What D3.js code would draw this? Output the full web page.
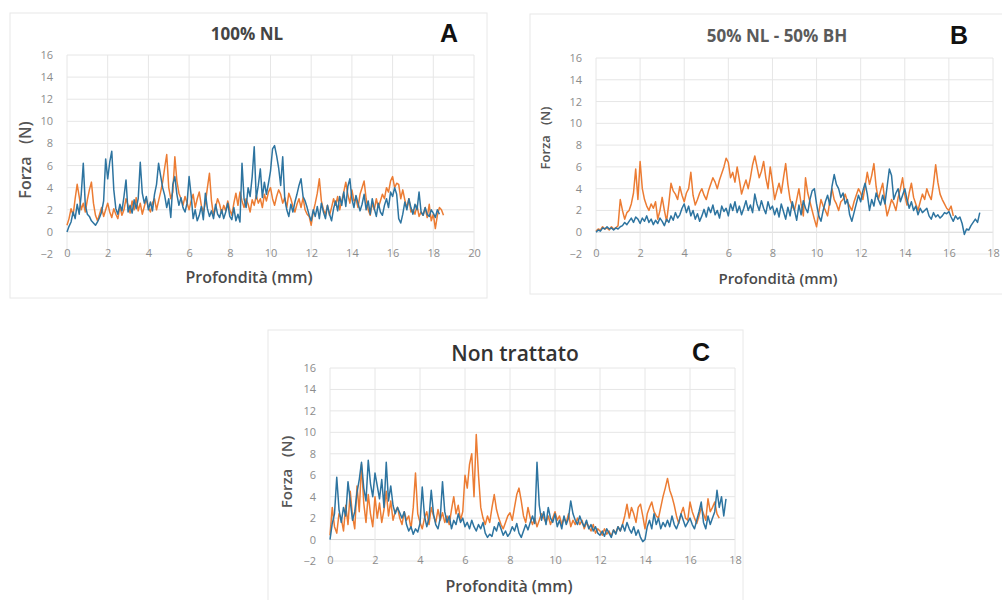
<!DOCTYPE html>
<html>
<head>
<meta charset="utf-8">
<script src="https://cdn.jsdelivr.net/npm/d3@7"></script>
<style>
  html, body { margin: 0; padding: 0; background: #ffffff; }
  svg { display: block; }
  .tick text { font-family: "Open Sans", Lato, sans-serif; font-size: 11px; fill: #8c8c8c; }
</style>
</head>
<body>
<svg id="chart" width="1002" height="600"></svg>
<script>
// Penetration tests: force (N) vs depth (mm), two repeated measurements per treatment.
const depthStep = 0.1;            // sampling interval of the traces (mm)

const yTicks = [-2, 0, 2, 4, 6, 8, 10, 12, 14, 16];
const xTicksA = [0, 2, 4, 6, 8, 10, 12, 14, 16, 18, 20];
const xTicksBC = [0, 2, 4, 6, 8, 10, 12, 14, 16, 18];

const titles = ["100% NL", "50% NL - 50% BH", "Non trattato"];
const letters = ["A", "B", "C"];
const yAxisTitle = "Forza\u00a0\u00a0\u00a0(N)";
const xAxisTitle = "Profondità (mm)";

// 100% NL
const nlBlue = [
  0.0,0.5,0.9,1.8,1.2,2.5,1.6,3.4,6.2,2.4,
  1.6,1.4,1.0,0.8,0.6,0.9,1.3,1.8,2.8,6.6,
  4.8,6.3,7.3,3.8,2.1,1.6,2.5,1.9,3.2,4.7,
  1.8,2.4,1.7,2.9,2.1,3.0,6.3,3.5,2.6,3.2,
  2.0,2.7,1.9,3.4,4.3,6.2,5.1,4.0,3.3,2.2,
  3.0,1.3,4.3,5.0,3.4,2.4,3.1,2.2,1.8,2.6,
  5.0,3.3,1.2,2.0,1.0,1.5,2.3,1.1,3.5,2.1,
  1.4,1.9,1.2,2.5,1.6,1.3,2.0,1.2,1.8,2.6,
  1.4,1.1,2.2,1.0,1.6,0.9,6.2,3.0,2.2,4.0,
  3.2,5.0,7.7,3.0,4.2,5.7,3.1,4.5,3.4,4.4,
  5.5,7.5,7.8,6.9,5.8,4.2,6.8,3.0,2.0,1.4,
  2.5,1.8,2.7,3.4,4.2,4.8,3.2,2.8,2.2,1.5,
  1.0,2.0,1.4,2.3,1.2,2.6,1.8,1.2,2.4,1.6,
  1.0,2.1,2.8,1.9,3.2,2.4,3.6,2.3,4.1,4.8,
  3.0,2.2,3.3,2.6,1.9,2.5,3.4,2.0,2.8,1.6,
  3.0,2.1,1.4,2.6,1.8,1.5,2.4,3.0,2.2,3.6,
  3.2,4.0,3.4,1.2,0.8,1.6,2.7,2.0,3.0,2.2,
  1.6,2.5,2.0,3.6,1.8,1.5,2.2,1.6,1.4,2.0,
  1.7,1.3,2.0,1.6
];
const nlOrange = [
  0.6,1.2,2.1,1.5,3.0,4.3,3.2,2.0,2.6,1.8,
  2.9,3.8,4.5,2.6,1.5,1.0,1.6,2.2,1.4,2.0,
  2.6,1.8,1.3,2.1,1.6,1.2,2.3,1.5,2.0,3.0,
  2.4,1.7,2.8,2.0,3.1,1.9,2.6,1.6,2.3,3.0,
  2.2,1.8,2.6,3.0,2.0,2.8,3.6,4.5,5.8,7.0,
  4.0,3.0,3.6,6.8,4.6,3.5,3.0,2.4,3.2,2.6,
  2.0,2.8,3.4,2.2,3.0,3.6,2.4,1.8,2.6,4.0,
  5.3,2.8,1.5,2.2,3.0,2.5,1.7,2.4,1.9,2.8,
  2.0,1.5,2.6,3.5,2.4,3.6,2.8,2.2,3.0,2.5,
  1.8,2.9,2.4,3.3,2.6,3.0,2.2,3.4,2.8,3.6,
  4.0,3.0,2.4,3.2,3.8,3.4,2.6,3.1,2.2,3.5,
  3.0,2.3,1.8,2.5,3.0,2.2,3.1,2.0,1.6,1.4,
  0.6,1.8,2.6,3.5,4.8,2.8,2.0,1.6,2.4,1.5,
  2.2,3.0,2.4,3.2,2.0,2.8,3.6,4.5,3.4,2.6,
  3.8,2.8,3.0,2.2,3.4,4.0,4.6,3.0,2.0,1.5,
  2.6,2.0,3.0,2.2,2.8,3.4,3.0,4.0,3.6,4.6,
  5.0,4.0,4.4,4.3,3.0,3.8,2.9,2.2,3.0,1.8,
  2.0,1.6,2.4,1.4,1.8,1.5,2.2,1.3,2.5,1.0,
  1.6,0.3,1.5,2.2,2.0,1.5
];

// 50% NL - 50% BH
const mixBlue = [
  0.0,0.2,0.1,0.4,0.3,0.5,0.3,0.4,0.2,0.4,
  0.3,0.5,0.6,0.9,0.7,1.0,1.3,0.9,1.4,1.2,
  0.8,1.3,1.0,1.5,0.9,1.2,0.7,1.1,0.8,1.3,
  1.0,0.6,1.2,0.9,1.5,1.1,1.8,1.3,1.6,2.2,
  2.6,1.8,2.4,1.5,2.0,1.2,1.7,1.0,1.5,2.1,
  1.4,2.3,1.8,2.5,1.6,2.0,1.3,2.4,1.9,2.2,
  1.5,2.6,2.0,2.8,1.8,2.4,1.6,2.2,2.9,2.0,
  2.5,1.8,3.5,2.6,2.0,2.9,2.2,1.7,2.8,2.1,
  2.4,1.6,2.2,1.4,2.6,1.9,1.2,2.3,1.5,2.8,
  2.0,1.1,2.5,1.6,2.9,2.2,1.8,3.0,3.8,4.0,
  2.6,1.5,1.0,2.0,2.8,3.4,2.5,4.2,5.3,4.4,
  4.0,3.2,3.6,2.6,3.0,1.6,1.0,1.8,2.6,3.4,
  2.8,3.8,4.5,3.5,2.0,3.0,2.4,3.6,3.0,2.5,
  3.4,2.6,4.2,5.8,5.2,3.0,3.6,4.0,2.8,3.4,
  4.0,3.0,2.2,2.8,2.0,2.4,1.6,2.2,1.8,2.0,
  2.2,1.5,1.2,1.8,1.4,1.6,1.3,1.5,1.8,1.7,
  1.9,1.4,1.0,1.5,1.2,1.4,0.8,-0.2,0.3,0.2,
  0.6,0.9,1.2,0.9,1.8
];
const mixOrange = [
  0.1,0.3,0.2,0.5,0.3,0.4,0.2,0.5,0.3,0.4,
  0.6,3.0,2.0,1.2,1.8,2.0,2.6,3.6,5.8,3.0,
  6.5,4.0,3.0,2.4,2.0,2.6,2.2,2.8,1.2,2.0,
  3.2,2.0,1.0,2.6,4.5,3.8,3.5,3.0,4.2,3.4,
  2.8,3.6,4.0,5.5,3.4,2.5,3.0,3.6,4.0,3.4,
  3.0,3.8,4.4,5.0,4.6,4.0,4.8,5.4,6.0,6.8,
  6.4,5.0,5.5,4.6,6.0,4.8,3.5,4.2,4.8,4.0,
  5.0,6.2,7.0,6.0,5.0,5.6,6.5,5.0,4.0,6.0,
  4.6,3.0,3.8,4.5,3.6,5.0,6.3,4.4,3.0,2.4,
  2.0,3.0,4.0,2.6,1.5,5.0,3.6,2.8,2.0,1.2,
  0.5,1.8,3.0,2.4,2.0,1.5,2.8,4.0,3.0,2.6,
  2.0,2.8,3.0,3.5,2.8,2.4,2.0,2.8,3.4,4.0,
  3.6,3.0,4.2,5.5,4.4,5.2,6.3,4.2,3.0,3.8,
  4.5,2.8,1.5,2.2,3.0,2.6,2.0,3.2,4.0,5.0,
  3.4,2.5,3.6,4.5,3.2,2.6,2.0,2.8,3.5,3.0,
  4.0,3.4,3.0,4.4,6.2,4.6,3.5,3.0,2.6,2.2,
  2.0,2.4,1.5
];

// Non trattato
const ntBlue = [
  0.0,1.5,2.4,5.8,2.8,1.6,3.0,2.2,5.4,3.6,
  1.8,2.6,4.4,5.6,7.2,4.8,3.6,7.4,5.2,4.0,
  6.2,5.0,3.8,5.6,3.0,7.2,3.6,5.0,3.2,2.4,
  3.0,2.5,2.0,2.6,1.4,0.8,1.2,0.5,1.0,0.7,
  1.5,4.9,2.2,1.2,2.0,4.6,2.4,1.4,1.0,2.0,
  5.4,2.6,1.6,2.2,1.0,1.8,1.4,2.4,1.6,2.0,
  1.2,1.6,1.0,1.8,1.2,0.8,1.4,1.0,1.6,0.6,
  0.2,0.5,0.3,1.2,0.8,1.6,1.0,0.4,0.8,0.3,
  0.6,1.2,0.8,1.5,0.6,0.2,0.8,1.4,0.9,1.6,
  2.2,1.5,7.2,3.2,1.8,2.6,1.4,3.0,2.0,1.6,
  2.4,1.2,1.8,1.0,2.2,1.4,2.0,3.6,2.4,1.8,
  1.4,2.2,1.6,1.2,1.8,1.0,1.4,0.8,1.2,0.6,
  0.4,0.8,0.3,1.0,0.6,0.2,0.9,0.5,1.2,0.8,
  1.4,0.8,1.6,1.0,0.6,1.2,0.4,0.9,0.2,-0.2,
  0.0,1.2,1.8,1.0,2.4,1.4,2.0,1.0,1.6,1.2,
  1.8,1.2,2.2,1.4,1.0,1.6,2.4,1.8,1.2,1.6,
  2.0,1.4,1.0,1.8,2.6,3.5,1.6,1.0,2.2,1.4,
  2.0,2.6,4.6,3.0,4.0,2.2,3.8
];
const ntOrange = [
  0.4,3.0,1.2,0.6,2.4,2.0,0.8,3.2,1.4,4.5,
  2.2,1.0,5.0,2.6,7.0,3.4,1.6,4.2,2.4,1.2,
  4.0,2.0,3.4,1.6,2.8,4.5,2.2,3.6,1.8,2.6,
  3.0,2.0,1.4,2.6,1.8,2.2,1.0,3.0,6.2,2.4,
  1.6,1.0,2.0,2.6,1.4,3.0,2.2,1.6,2.8,1.8,
  2.5,1.6,2.2,1.4,2.8,4.0,2.4,3.2,1.8,2.6,
  6.0,4.8,7.0,8.0,4.0,9.8,6.0,3.0,2.0,1.4,
  2.2,1.6,3.0,4.2,2.8,2.0,1.4,1.0,1.6,2.2,
  2.5,1.8,3.0,4.2,4.8,3.6,2.2,1.6,3.0,2.0,
  1.4,2.0,1.2,1.8,2.4,2.0,1.6,2.2,1.4,2.0,
  2.6,1.8,2.2,1.4,2.0,1.6,2.4,1.2,1.8,1.4,
  2.0,1.4,1.8,1.0,1.6,1.2,0.8,1.4,0.6,1.0,
  0.8,0.4,1.0,0.5,0.8,0.3,0.9,0.6,1.2,0.8,
  1.4,2.2,3.3,2.0,3.0,2.4,1.6,3.0,3.3,2.2,
  1.0,2.4,3.0,3.5,2.6,2.2,2.0,3.0,4.0,4.8,
  5.7,4.6,4.0,3.2,2.2,1.5,2.4,3.0,2.0,1.8,
  3.5,2.6,2.0,1.5,2.2,3.0,2.4,1.8,3.8,2.6,
  3.0,3.5,2.4,2.0
];

const blueColor = "#2d74a0";
const orangeColor = "#ec7c33";
const fontFamily = "'Open Sans', Lato, sans-serif";

const svg = d3.select("#chart");

// One panel: frame, grid, axes, two traces, titles.
function drawPanel(p) {
  const g = svg.append("g");

  g.append("rect")
    .attr("x", p.frame[0]).attr("y", p.frame[1])
    .attr("width", p.frame[2]).attr("height", p.frame[3])
    .attr("fill", "#ffffff").attr("stroke", "#e8e8e8").attr("stroke-width", 1);

  const x = d3.scaleLinear().domain([0, p.xMax]).range([p.left, p.right]);
  const y = d3.scaleLinear().domain([-2, 16]).range([p.bottom, p.top]);

  // gridlines
  g.append("g").selectAll("line").data(yTicks).join("line")
    .attr("x1", p.left).attr("x2", p.right)
    .attr("y1", d => y(d)).attr("y2", d => y(d))
    .attr("stroke", d => d === 0 ? "#d6d6d6" : "#e6e6e6").attr("stroke-width", 1);
  g.append("g").selectAll("line").data(p.xTicks).join("line")
    .attr("x1", d => x(d)).attr("x2", d => x(d))
    .attr("y1", y(16)).attr("y2", y(-2))
    .attr("stroke", "#e6e6e6").attr("stroke-width", 1);

  // axes (labels only)
  const ya = g.append("g").attr("transform", `translate(${p.left},0)`)
    .call(d3.axisLeft(y).tickValues(yTicks).tickSize(0).tickPadding(p.yPad));
  ya.select(".domain").remove();

  const xa = g.append("g").attr("transform", `translate(0,${y(-2)})`)
    .call(d3.axisBottom(x).tickValues(p.xTicks).tickSize(0).tickPadding(-5));
  xa.select(".domain").remove();

  // traces
  const line = d3.line()
    .x((d, i) => x(i * depthStep))
    .y(d => y(d));

  g.append("path").datum(p.orange)
    .attr("d", line).attr("fill", "none")
    .attr("stroke", orangeColor).attr("stroke-width", 1.5)
    .attr("stroke-linejoin", "round");
  g.append("path").datum(p.blue)
    .attr("d", line).attr("fill", "none")
    .attr("stroke", blueColor).attr("stroke-width", 1.5)
    .attr("stroke-linejoin", "round");

  // titles
  g.append("text")
    .attr("x", p.titlePos[0]).attr("y", p.titlePos[1])
    .attr("text-anchor", "middle").attr("dominant-baseline", "central")
    .attr("font-family", fontFamily).attr("font-size", p.titleSize)
    .attr("font-weight", p.titleWeight).attr("fill", p.titleColor)
    .text(p.title);

  g.append("text")
    .attr("x", p.letterPos[0]).attr("y", p.letterPos[1])
    .attr("text-anchor", "middle").attr("dominant-baseline", "central")
    .attr("font-family", "'Liberation Sans', Arial, sans-serif").attr("font-size", 25)
    .attr("font-weight", "bold").attr("fill", "#111111")
    .text(p.letter);

  g.append("text")
    .attr("transform", `translate(${p.yTitlePos[0]},${p.yTitlePos[1]}) rotate(-90)`)
    .attr("text-anchor", "middle").attr("dominant-baseline", "central")
    .attr("font-family", fontFamily).attr("font-size", p.yTitleSize)
    .attr("font-weight", 600).attr("fill", "#555555")
    .text(yAxisTitle);

  g.append("text")
    .attr("x", p.xTitlePos[0]).attr("y", p.xTitlePos[1])
    .attr("text-anchor", "middle").attr("dominant-baseline", "central")
    .attr("font-family", fontFamily).attr("font-size", p.xTitleSize)
    .attr("font-weight", 600).attr("fill", "#4a4a4a")
    .text(xAxisTitle);
}

drawPanel({
  frame: [10, 13, 477, 285],
  left: 67, right: 474, top: 55, bottom: 254, xMax: 20, xTicks: xTicksA, yPad: 14,
  blue: nlBlue, orange: nlOrange,
  title: titles[0], titlePos: [247, 33], titleSize: 17, titleWeight: "bold", titleColor: "#444444",
  letter: letters[0], letterPos: [449, 33],
  yTitlePos: [25, 160], xTitlePos: [249, 277], yTitleSize: 16, xTitleSize: 16
});

drawPanel({
  frame: [530, 14, 480, 280],
  left: 596, right: 993, top: 58, bottom: 254, xMax: 18, xTicks: xTicksBC, yPad: 14,
  blue: mixBlue, orange: mixOrange,
  title: titles[1], titlePos: [777, 35], titleSize: 17, titleWeight: "bold", titleColor: "#5a5a5a",
  letter: letters[1], letterPos: [959, 35],
  yTitlePos: [545, 138], xTitlePos: [778, 278], yTitleSize: 13, xTitleSize: 15
});

drawPanel({
  frame: [268, 330, 475, 275],
  left: 330, right: 735, top: 368, bottom: 561, xMax: 18, xTicks: xTicksBC, yPad: 14,
  blue: ntBlue, orange: ntOrange,
  title: titles[2], titlePos: [515, 353], titleSize: 21, titleWeight: 600, titleColor: "#333333",
  letter: letters[2], letterPos: [701, 352],
  yTitlePos: [286, 472], xTitlePos: [509, 586], yTitleSize: 15, xTitleSize: 16
});
</script>
</body>
</html>
